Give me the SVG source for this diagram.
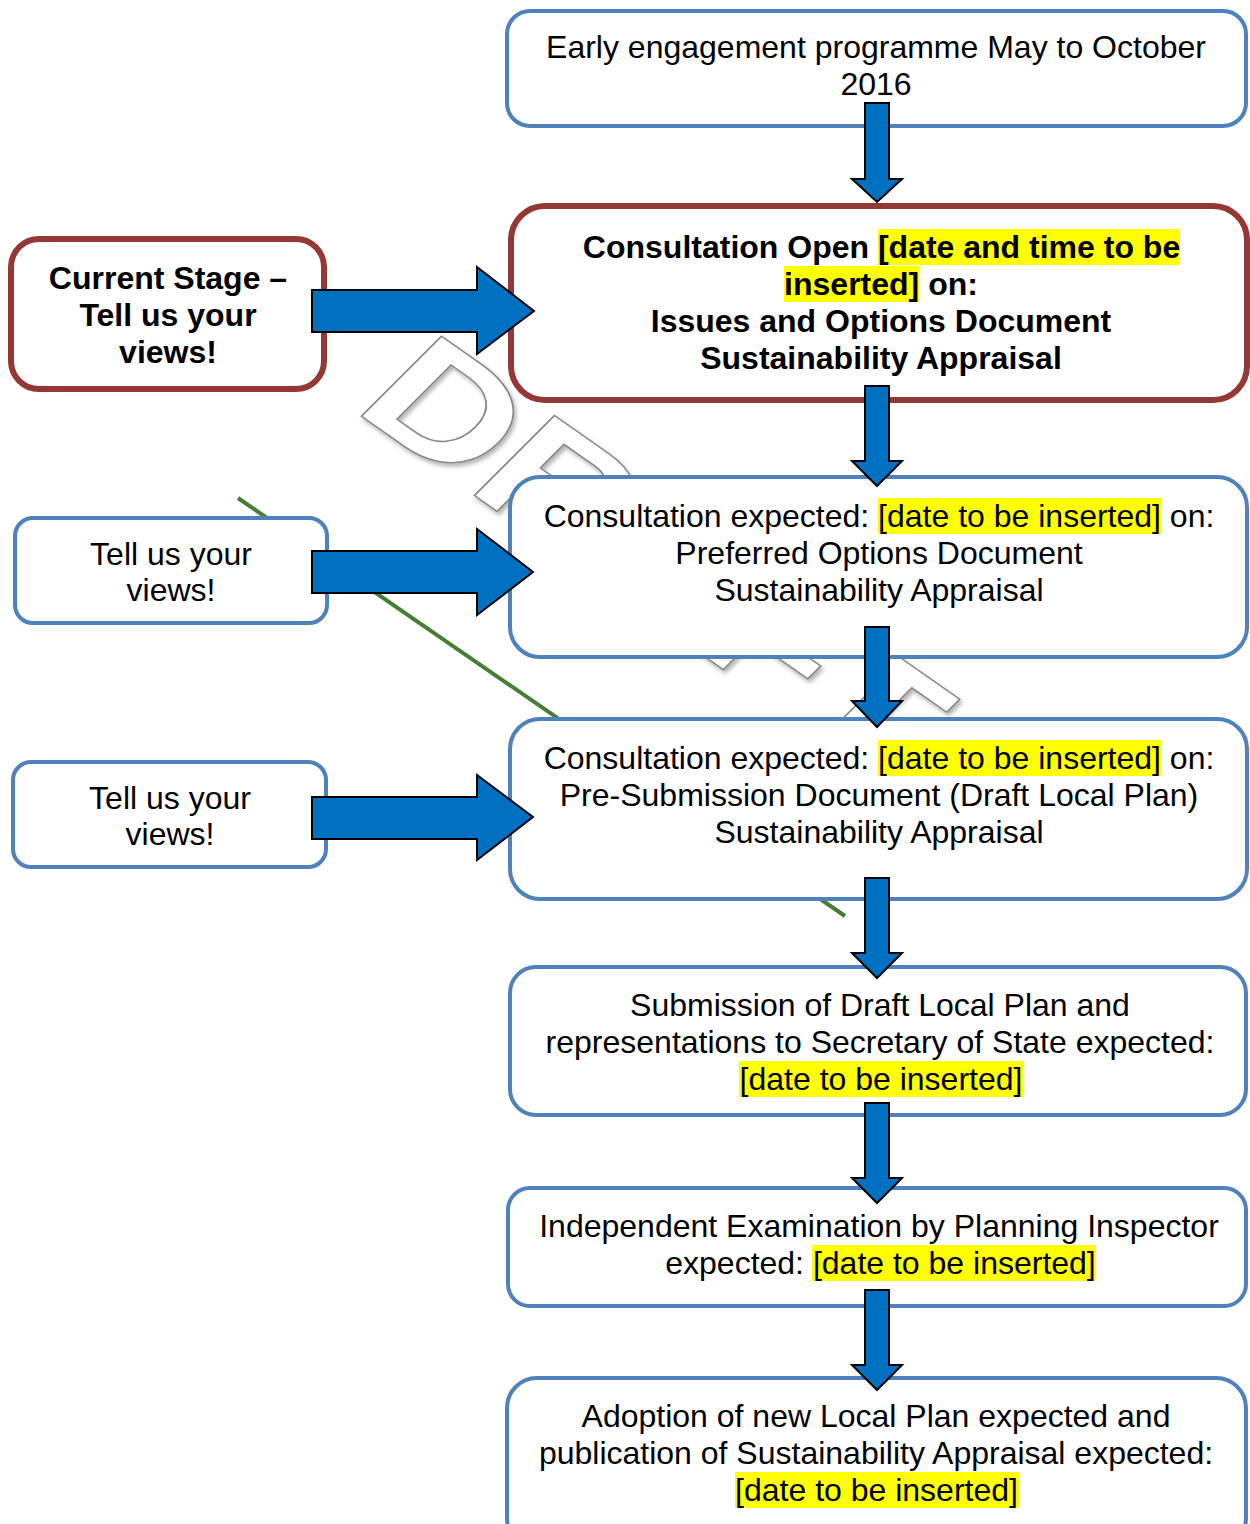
<svg xmlns="http://www.w3.org/2000/svg" width="1250" height="1524" viewBox="0 0 1250 1524">
<defs>
<style>
text{font-family:"Liberation Sans",Arial,sans-serif;font-size:32px;fill:#000;text-anchor:middle}
.b{font-weight:bold}
.box{fill:#fff;stroke:#4F81BD;stroke-width:4}
.cur{fill:#fff;stroke:#953735;stroke-width:6}
.hl{fill:#FFFF00}
.arr{fill:#0070C0;stroke:#000;stroke-width:2;stroke-linejoin:miter}
.wm{font-size:162px;font-weight:bold;fill:#fff;stroke:#8a8a8a;stroke-width:1.5;text-anchor:start}
</style>
<filter id="sh" x="-10%" y="-10%" width="130%" height="130%">
<feDropShadow dx="2" dy="3" stdDeviation="2" flood-color="#000" flood-opacity="0.3"/>
</filter>
</defs>
<rect width="1250" height="1524" fill="#fff"/>
<g id="watermark" filter="url(#sh)">
<text class="wm" transform="translate(351,409) rotate(35) skewX(-10) scale(1.18,1)">DRAFT</text>
</g>
<line id="green-line" x1="238" y1="498" x2="845" y2="916" stroke="#457D32" stroke-width="4"/>
<g id="n1"><rect class="box" x="507" y="11" width="739" height="115" rx="23"/>
<text x="876" y="58">Early engagement programme May to October</text>
<text x="876" y="95">2016</text></g>
<g id="n2"><rect class="cur" x="511" y="206" width="736" height="194" rx="34"/>
<rect class="hl" x="878" y="229" width="302" height="36"/>
<rect class="hl" x="784" y="266" width="135" height="36"/>
<text class="b" x="881.5" y="258">Consultation Open [date and time to be</text>
<text class="b" x="881" y="295">inserted] on:</text>
<text class="b" x="881" y="332">Issues and Options Document</text>
<text class="b" x="881" y="369">Sustainability Appraisal</text></g>
<g id="n3"><rect class="box" x="510" y="477" width="737" height="180" rx="30"/>
<rect class="hl" x="878" y="498" width="283" height="36"/>
<text x="879" y="527">Consultation expected: [date to be inserted] on:</text>
<text x="879" y="564">Preferred Options Document</text>
<text x="879" y="601">Sustainability Appraisal</text></g>
<g id="n4"><rect class="box" x="510" y="719" width="737" height="180" rx="30"/>
<rect class="hl" x="878" y="740" width="283" height="36"/>
<text x="879" y="769">Consultation expected: [date to be inserted] on:</text>
<text x="879" y="806">Pre-Submission Document (Draft Local Plan)</text>
<text x="879" y="843">Sustainability Appraisal</text></g>
<g id="n5"><rect class="box" x="510" y="967" width="736" height="148" rx="26"/>
<rect class="hl" x="739" y="1061" width="284" height="36"/>
<text x="880" y="1016">Submission of Draft Local Plan and</text>
<text x="880" y="1053">representations to Secretary of State expected:</text>
<text x="881" y="1090">[date to be inserted]</text></g>
<g id="n6"><rect class="box" x="508" y="1188" width="738" height="118" rx="22"/>
<rect class="hl" x="812" y="1245" width="284" height="36"/>
<text x="879" y="1237">Independent Examination by Planning Inspector</text>
<text x="880.5" y="1274">expected: [date to be inserted]</text></g>
<g id="n7"><rect class="box" x="507" y="1378" width="739" height="170" rx="30"/>
<rect class="hl" x="735" y="1472" width="284" height="36"/>
<text x="876" y="1427">Adoption of new Local Plan expected and</text>
<text x="876" y="1464">publication of Sustainability Appraisal expected:</text>
<text x="876.5" y="1501">[date to be inserted]</text></g>
<g id="l1"><rect class="cur" x="11" y="239" width="313" height="150" rx="28"/>
<text class="b" x="168" y="289">Current Stage –</text>
<text class="b" x="168" y="326">Tell us your</text>
<text class="b" x="168" y="363">views!</text></g>
<g id="l2"><rect class="box" x="15" y="518" width="312" height="105" rx="18"/>
<text x="171" y="565">Tell us your</text>
<text x="171" y="601">views!</text></g>
<g id="l3"><rect class="box" x="13" y="762" width="313" height="105" rx="18"/>
<text x="170" y="809">Tell us your</text>
<text x="170" y="845">views!</text></g>
<g id="connectors">
<path class="arr" d="M865,103 H889 V179 H902 L877,202 L852,179 H865 Z"/>
<path class="arr" d="M865,386 H889 V461 H902 L877,486 L852,461 H865 Z"/>
<path class="arr" d="M865,627 H889 V701 H902 L877,727 L852,701 H865 Z"/>
<path class="arr" d="M865,878 H889 V953 H902 L877,978 L852,953 H865 Z"/>
<path class="arr" d="M865,1103 H889 V1178 H902 L877,1203 L852,1178 H865 Z"/>
<path class="arr" d="M865,1290 H889 V1365 H902 L877,1390 L852,1365 H865 Z"/>
<path class="arr" d="M312,290 H477 V267 L534,311 L477,354 V332 H312 Z"/>
<path class="arr" d="M312,551 H477 V529 L533,572 L477,615 V593 H312 Z"/>
<path class="arr" d="M312,797 H477 V775 L533,817 L477,860 V839 H312 Z"/>
</g>
</svg>
